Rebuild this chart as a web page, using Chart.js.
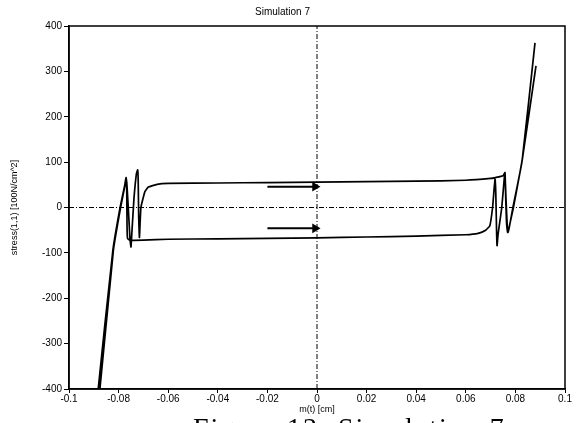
<!DOCTYPE html>
<html>
<head>
<meta charset="utf-8">
<script src="https://cdn.jsdelivr.net/npm/chart.js@4"></script>
<style>
  html, body { margin: 0; padding: 0; background: #fff; overflow: hidden; }
  #wrap { position: relative; width: 576px; height: 423px; overflow: hidden; }
  #caption { position: absolute; left: 193px; top: 412px; font-family: "Liberation Serif", serif; font-size: 28px; letter-spacing: 2px; color: #000; white-space: nowrap; }
</style>
</head>
<body>
<div id="wrap">
  <canvas id="sim" width="576" height="423"></canvas>
  <div id="caption">Figure 13: Simulation 7</div>
</div>
<script>
// tick positions
var xTicks = [-0.1, -0.08, -0.06, -0.04, -0.02, 0, 0.02, 0.04, 0.06, 0.08, 0.1];
var yTicks = [-400, -300, -200, -100, 0, 100, 200, 300, 400];

// hysteresis trace (m(t) in cm, stress in 100N/cm^2)
var traceX = [0.0883, 0.0827, 0.0792, 0.0772, 0.0769, 0.0764, 0.0760, 0.0758, 0.0750, 0.0720, 0.0700, 0.0600, 0.0400, 0.0200, 0.0000,
  -0.0200, -0.0400, -0.0600, -0.0645, -0.0680, -0.0694, -0.0710, -0.0716, -0.0719, -0.0721, -0.0723, -0.0728, -0.0738, -0.0747, -0.0750,
  -0.0754, -0.0761, -0.0767, -0.0770, -0.0775, -0.0794, -0.0823, -0.0886,
  -0.0879, -0.0821, -0.0792, -0.0772, -0.0769, -0.0767, -0.0766, -0.0764, -0.0755, -0.0700, -0.0600, -0.0400, -0.0200, 0.0000,
  0.0200, 0.0400, 0.0600, 0.0650, 0.0680, 0.0697, 0.0708, 0.0714, 0.0718, 0.0721, 0.0724, 0.0726, 0.0730, 0.0745, 0.0756, 0.0758,
  0.0762, 0.0767, 0.0770, 0.0775, 0.0790, 0.0827, 0.0879];
var traceY = [312, 103, 0, -50, -55, -30, 40, 77, 70, 66, 64, 60, 58, 57, 56,
  55, 54, 53, 51, 45, 35, 0, -66, -20, 60, 83, 75, 20, -60, -87,
  -70, 0, 55, 66, 50, 0, -94, -420,
  -420, -94, 0, 55, 62, 30, -40, -68, -72, -72, -70, -69, -68, -67,
  -65, -63, -60, -57, -50, -40, 0, 40, 62, 30, -50, -84, -60, 0, 70, 77,
  20, -40, -55, -45, 0, 103, 363];

// direction arrows
var arrowUpperX = [-0.0200, -0.0008];
var arrowUpperY = [46, 46];
var arrowLowerX = [-0.0200, -0.0008];
var arrowLowerY = [-46, -46];

// zero reference lines
var zeroHX = [-0.1, 0.1], zeroHY = [0, 0];
var zeroVX = [0, 0], zeroVY = [-400, 400];

function pts(xs, ys) {
  return xs.map(function (x, i) { return { x: x, y: ys[i] }; });
}

var frame = {
  id: 'frame',
  afterDraw: function (chart) {
    var a = chart.chartArea, c = chart.ctx;
    c.save();
    c.strokeStyle = '#000';
    c.lineWidth = 1.5;
    c.strokeRect(a.left, a.top, a.right - a.left, a.bottom - a.top);
    c.restore();
  }
};

var font = { family: 'Liberation Sans, Arial, sans-serif', size: 9 };
var tickFont = { family: font.family, size: 10 };

new Chart(document.getElementById('sim').getContext('2d'), {
  type: 'scatter',
  data: {
    datasets: [{
      label: 'zero h',
      data: pts(zeroHX, zeroHY),
      showLine: true,
      borderColor: '#000',
      borderWidth: 1,
      borderDash: [5, 2, 1, 2],
      pointRadius: 0
    },
    {
      label: 'zero v',
      data: pts(zeroVX, zeroVY),
      showLine: true,
      borderColor: '#000',
      borderWidth: 1,
      borderDash: [5, 2, 1, 2],
      pointRadius: 0
    },
    {
      label: 'stress',
      data: pts(traceX, traceY),
      showLine: true,
      borderColor: '#000',
      borderWidth: 1.7,
      pointRadius: 0,
      tension: 0.12
    },
    {
      label: 'arrow1',
      data: pts(arrowUpperX, arrowUpperY),
      showLine: true,
      borderColor: '#000',
      backgroundColor: '#000',
      borderWidth: 2,
      pointStyle: 'triangle',
      rotation: 90,
      pointRadius: [0, 3.5]
    },
    {
      label: 'arrow2',
      data: pts(arrowLowerX, arrowLowerY),
      showLine: true,
      borderColor: '#000',
      backgroundColor: '#000',
      borderWidth: 2,
      pointStyle: 'triangle',
      rotation: 90,
      pointRadius: [0, 3.5]
    }]
  },
  options: {
    responsive: false,
    animation: false,
    layout: { padding: { top: 6, right: 11, left: 0, bottom: 8 } },
    plugins: {
      legend: { display: false },
      tooltip: { enabled: false },
      title: {
        display: true,
        text: 'Simulation 7',
        color: '#000',
        font: { family: font.family, size: 10, weight: 'normal' },
        padding: { top: 0, bottom: 8 }
      }
    },
    scales: {
      x: {
        type: 'linear',
        min: -0.1,
        max: 0.1,
        afterBuildTicks: function (s) { s.ticks = xTicks.map(function (v) { return { value: v }; }); },
        afterFit: function (s) { s.height = 26; },
        ticks: {
          color: '#000',
          font: tickFont,
          padding: 0,
          maxRotation: 0,
          callback: function (v) { return String(+v.toFixed(2)); }
        },
        grid: { drawOnChartArea: false, color: '#000', tickLength: 4 },
        border: { color: '#000', width: 1.5 },
        title: { display: true, text: 'm(t) [cm]', color: '#000', font: font, padding: { top: 0, bottom: 0 } }
      },
      y: {
        min: -400,
        max: 400,
        afterBuildTicks: function (s) { s.ticks = yTicks.map(function (v) { return { value: v }; }); },
        afterFit: function (s) { s.width = 69; },
        ticks: { color: '#000', font: tickFont, padding: 2 },
        grid: { drawOnChartArea: false, color: '#000', tickLength: 5 },
        border: { color: '#000', width: 1.5 },
        title: { display: true, text: 'stress(1,1) [100N/cm^2]', color: '#000', font: font, padding: { top: 9, bottom: 0 } }
      }
    }
  },
  plugins: [frame]
});
</script>
</body>
</html>
